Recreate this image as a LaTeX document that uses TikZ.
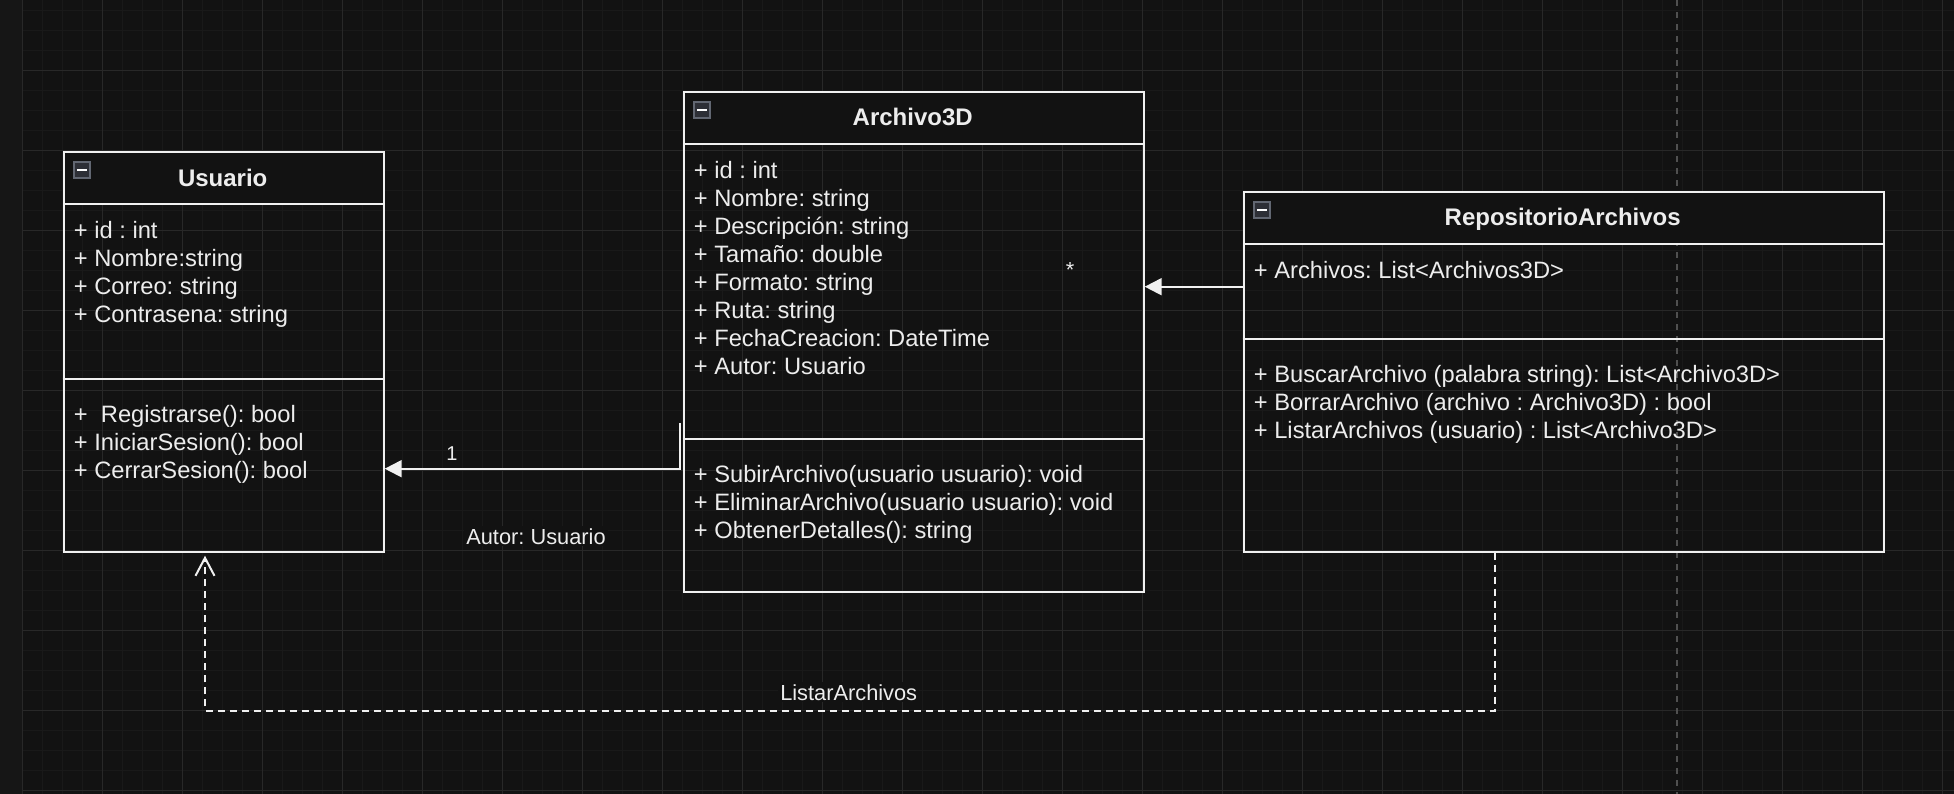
\documentclass[tikz,border=0pt]{standalone}
\usepackage{fontspec}
\setmainfont{Liberation Sans}
\frenchspacing
\usetikzlibrary{arrows.meta,calc}
\definecolor{pagebg}{HTML}{161616}
\definecolor{cbg}{HTML}{121212}
\definecolor{gminor}{HTML}{191919}
\definecolor{gmajor}{HTML}{282828}
\definecolor{lc}{HTML}{F0F0F0}
\definecolor{tc}{HTML}{EDEDED}
\definecolor{pbreak}{HTML}{505050}
\definecolor{icb}{HTML}{626772}
\definecolor{icf}{HTML}{2D2F36}
\newcommand\ctext{\fontsize{23.7}{28}\selectfont}
\newcommand\ctitle{\fontsize{24}{28}\selectfont\bfseries}
\newcommand\clabel{\fontsize{21.8}{26}\selectfont}
\newcommand\cnum{\fontsize{20}{24}\selectfont}
\begin{document}
\begin{tikzpicture}[x=1pt,y=-1pt,
  hdr/.style={draw=lc, fill=cbg, line width=2pt, inner sep=0, anchor=north west, minimum height=52pt},
  box/.style={draw=lc, line width=2pt, inner sep=0, anchor=north west},
  ln/.style={draw=lc, line width=2pt},
  txt/.style={anchor=base west, inner sep=0, text=tc, font=\ctext},
  ttl/.style={anchor=base, inner sep=0, text=tc, font=\ctitle},
  lbl/.style={anchor=base, inner sep=2pt, text=tc, font=\clabel},
  mini/.style={draw=icb, fill=icf, line width=2pt, minimum size=16pt, inner sep=0, anchor=north west,
    path picture={\draw[white, line width=2pt] ([xshift=3pt]path picture bounding box.west) -- ([xshift=-3pt]path picture bounding box.east);}},
  assoc/.style={draw=lc, line width=2pt, -{Triangle[length=17pt,width=17pt]}},
  dep/.style={draw=lc, line width=2pt, dash pattern=on 7pt off 5pt, -{Straight Barb[length=18pt,width=19pt]}, shorten >=3pt}
]
\useasboundingbox (0,0) rectangle (1954,794);
% background and grid
\fill[pagebg] (0,0) rectangle (1954,794);
\fill[cbg] (21.7,0) rectangle (1954,794);
\foreach \x in {22.7,42.7,...,1954} \draw[gminor, line width=1pt] (\x,0) -- (\x,794);
\foreach \y in {10.7,30.7,...,794} \draw[gminor, line width=1pt] (21.7,\y) -- (1954,\y);
\foreach \x in {22.7,102.7,...,1954} \draw[gmajor, line width=1.3pt] (\x,0) -- (\x,794);
\foreach \y in {70.7,150.7,...,794} \draw[gmajor, line width=1.3pt] (21.7,\y) -- (1954,\y);
\draw[pbreak, line width=1.5pt, dash pattern=on 6pt off 6pt] (1677,0) -- (1677,794);

% ---------- Usuario ----------
\node[hdr, minimum width=320pt] (uH) at (62.7,150.7) {};
\node[box, minimum width=320pt, minimum height=400pt] (u) at (62.7,150.7) {};
\draw[ln] (u.west |- 0,378.7) -- (u.east |- 0,378.7);
\node[mini] (uM) at ($(uH.north west)+(10.3,10.3)$) {};
\node[ttl] (uT) at (222.7,186.4) {Usuario};
\foreach \t [count=\i from 0] in {{+ id : int},{+ Nombre:string},{+ Correo: string},{+ Contrasena: string}}
  \node[txt, name=ua\i] at (73.7,{238.7+28*\i}) {\t};
\foreach \t [count=\i from 0] in {{+~ Registrarse(): bool},{+ IniciarSesion(): bool},{+ CerrarSesion(): bool}}
  \node[txt, name=um\i] at (73.7,{422.5+28*\i}) {\t};

% ---------- Archivo3D ----------
\node[hdr, minimum width=460pt] (aH) at (682.7,90.7) {};
\node[box, minimum width=460pt, minimum height=500pt] (a) at (682.7,90.7) {};
\draw[ln] (a.west |- 0,438.7) -- (a.east |- 0,438.7);
\node[mini] (aM) at ($(aH.north west)+(10.3,10.3)$) {};
\node[ttl] (aT) at (912.7,126) {Archivo3D};
\foreach \t [count=\i from 0] in {{+ id : int},{+ Nombre: string},{+ Descripción: string},{+ Tamaño: double},{+ Formato: string},{+ Ruta: string},{+ FechaCreacion: DateTime},{+ Autor: Usuario}}
  \node[txt, name=aa\i] at (693.7,{178.7+28*\i}) {\t};
\foreach \t [count=\i from 0] in {{+ SubirArchivo(usuario usuario): void},{+ EliminarArchivo(usuario usuario): void},{+ ObtenerDetalles(): string}}
  \node[txt, name=am\i] at (693.7,{482.5+28*\i}) {\t};

% ---------- RepositorioArchivos ----------
\node[hdr, minimum width=640pt] (rH) at (1242.7,190.7) {};
\node[box, minimum width=640pt, minimum height=360pt] (r) at (1242.7,190.7) {};
\draw[ln] (r.west |- 0,338.7) -- (r.east |- 0,338.7);
\node[mini] (rM) at ($(rH.north west)+(10.3,10.3)$) {};
\node[ttl] (rT) at (1562.7,226) {RepositorioArchivos};
\node[txt] (ra0) at (1253.7,278.5) {+ Archivos: List<Archivos3D>};
\foreach \t [count=\i from 0] in {{+ BuscarArchivo (palabra string): List<Archivo3D>},{+ BorrarArchivo (archivo : Archivo3D) : bool},{+ ListarArchivos (usuario) : List<Archivo3D>}}
  \node[txt, name=rm\i] at (1253.7,{382.5+28*\i}) {\t};

% ---------- connectors ----------
\coordinate (a1s) at (679.7,423.3);
\coordinate (a1b) at (679.7,468.7);
\draw[assoc] (a1s) -- (a1b) -- (a1b -| u.east);
\node[lbl, font=\cnum, inner sep=0] (l1) at (452,460) {1};
\node[lbl, fill=cbg] (l2) at (536,544) {Autor: Usuario};

\draw[assoc] (r.west |- 0,286.7) -- (a.east |- 0,286.7);
\node[lbl, inner sep=0] (l3) at (1070,277.5) {*};

\coordinate (d1) at (1494.7,710.7);
\coordinate (d2) at (205,710.7);
\draw[dep] (r.south -| d1) -- (d1) -- (d2) -- (u.south -| d2);
\node[lbl, fill=cbg] (l4) at (848.7,700) {ListarArchivos};
\end{tikzpicture}
\end{document}
